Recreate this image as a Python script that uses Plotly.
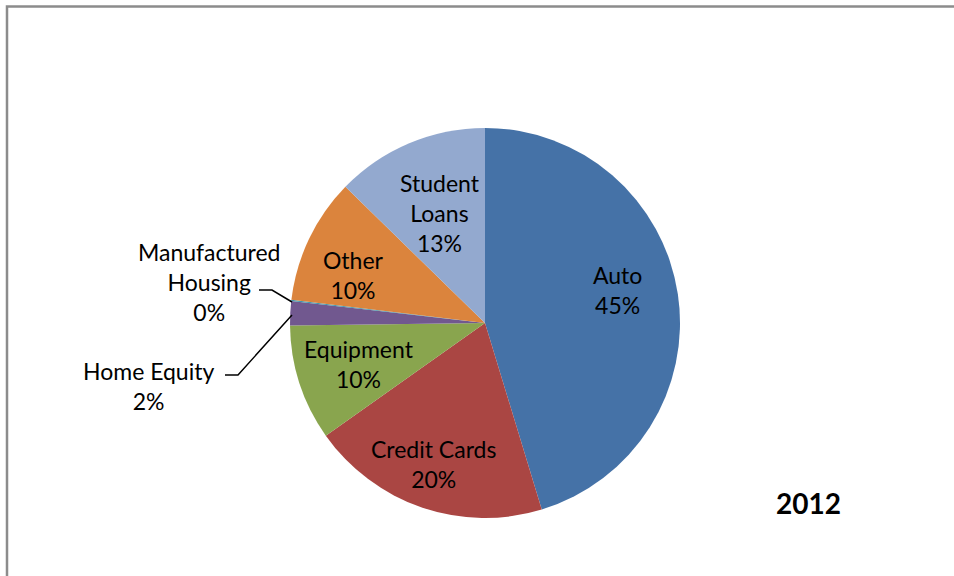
import math
import plotly.graph_objects as go

categories = ["Auto", "Credit Cards", "Equipment", "Home Equity",
              "Manufactured Housing", "Other", "Student Loans"]
display_labels = ["Auto", "Credit Cards", "Equipment", "Home Equity",
                  "Manufactured<br>Housing", "Other", "Student<br>Loans"]
values = [45.3, 19.9, 9.6, 2.0, 0.1, 10.4, 12.7]
colors = ["#4572A7", "#AA4643", "#89A54E", "#71588F",
          "#4198AF", "#DB843D", "#93A9CF"]
year_label = "2012"

W, H = 954, 576
FONT = "Lato"
FS = 23

# pie geometry (pixels)
CX, CY, R = 485, 323, 195

# inside label placement style: (radius fraction, angle offset deg); None = outside label
label_style = [(0.70, -5.5), (0.77, 1.0), (0.68, 0.0), None, None, (0.72, -5.5), (0.61, 0.5)]

fig = go.Figure(go.Pie(
    labels=categories,
    values=values,
    textinfo="none",
    sort=False,
    direction="clockwise",
    rotation=0,
    marker=dict(colors=colors, line=dict(width=0)),
    hoverinfo="skip",
    showlegend=False,
    domain=dict(x=[(CX - R) / W, (CX + R) / W],
                y=[(H - CY - R) / H, (H - CY + R) / H]),
))

total = sum(values)
pct = [v / total for v in values]


def px(x, y):
    return x / W, 1 - y / H


annotations = []
cum = 0.0
for i, p in enumerate(pct):
    mid = (cum + p / 2) * 360
    cum += p
    st = label_style[i]
    if st is None:
        continue
    rf, off = st
    a = math.radians(mid + off)
    x = CX + rf * R * math.sin(a)
    y = CY - rf * R * math.cos(a)
    ax, ay = px(x, y)
    annotations.append(dict(x=ax, y=ay, xref="paper", yref="paper",
                            text=f"{display_labels[i]}<br>{p:.0%}",
                            showarrow=False, xanchor="center", yanchor="middle",
                            font=dict(family=FONT, size=FS, color="black")))

# outside labels for the two small slices
ax, ay = px(209, 282)
annotations.append(dict(x=ax, y=ay, xref="paper", yref="paper",
                        text=f"{display_labels[4]}<br>{pct[4]:.0%}",
                        showarrow=False, xanchor="center", yanchor="middle",
                        font=dict(family=FONT, size=FS, color="black")))
ax, ay = px(148, 386)
annotations.append(dict(x=ax, y=ay, xref="paper", yref="paper",
                        text=f"{display_labels[3]}<br>{pct[3]:.0%}",
                        showarrow=False, xanchor="center", yanchor="middle",
                        font=dict(family=FONT, size=FS, color="black")))
ax, ay = px(808, 503)
annotations.append(dict(x=ax, y=ay, xref="paper", yref="paper",
                        text=f"<b>{year_label}</b>", showarrow=False,
                        xanchor="center", yanchor="middle",
                        font=dict(family=FONT, size=28, color="black")))


def path(points):
    pts = [px(x, y) for x, y in points]
    return "M " + " L ".join(f"{x},{y}" for x, y in pts)


shapes = [
    dict(type="rect", xref="paper", yref="paper",
         x0=7 / W, x1=1.05, y0=-0.05, y1=1 - 6.5 / H,
         line=dict(color="#8C8C8C", width=2.5)),
    dict(type="path", xref="paper", yref="paper",
         path=path([(259, 290), (272, 290), (292, 302)]),
         line=dict(color="black", width=1.5)),
    dict(type="path", xref="paper", yref="paper",
         path=path([(225, 375), (238, 375), (292, 315)]),
         line=dict(color="black", width=1.5)),
]

fig.update_layout(
    width=W, height=H,
    margin=dict(l=0, r=0, t=0, b=0),
    paper_bgcolor="white",
    plot_bgcolor="white",
    annotations=annotations,
    shapes=shapes,
    font=dict(family=FONT),
)

fig.write_html("out.html",
               config={"displayModeBar": False},
               post_script="document.body.style.margin='0';document.body.style.padding='0';")
